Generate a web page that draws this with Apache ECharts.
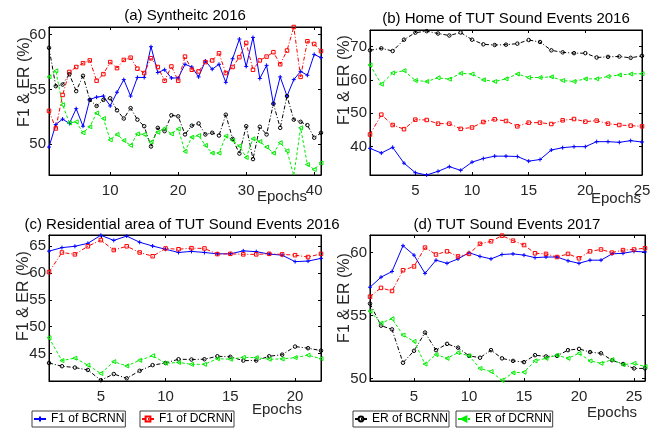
<!DOCTYPE html>
<html>
<head>
<meta charset="utf-8">
<script src="https://cdn.jsdelivr.net/npm/echarts@6/dist/echarts.min.js"></script>
<style>
  html, body { margin: 0; padding: 0; background: #fff; }
  #chart { width: 671px; height: 428px; }
</style>
</head>
<body>
<div id="chart"></div>
<script>
// ---- data ----
const seriesNames = ['F1 of BCRNN', 'F1 of DCRNN', 'ER of BCRNN', 'ER of DCRNN'];
const panelTitles = ['(a) Syntheitc 2016', '(b) Home of TUT Sound Events 2016',
  '(c) Residential area of TUT Sound Events 2016', '(d) TUT Sound Events 2017'];

// (a) Synthetic 2016, epochs 1..41
const aF1B = [49.75, 51.8, 52.3, 51.9, 53.25, 51.65, 54.1, 54.3, 54.4, 53.5, 54.75, 55.9, 54.4, 56.1, 56.1, 58.9, 56.55, 56.8, 56.05, 56.05, 57.3, 57.05, 56.15, 57.6, 56.85, 57.3, 55.65, 57.8, 59.6, 57.1, 59.75, 56.0, 57.2, 53.7, 56.15, 54.4, 55.9, 56.65, 56.3, 58.2, 57.9];
const aF1D = [53.05, 51.45, 54.5, 56.6, 57.05, 57.4, 57.65, 55.8, 56.4, 57.5, 56.95, 57.7, 57.9, 56.9, 56.5, 57.85, 57.05, 55.8, 57.1, 55.8, 58.0, 56.8, 56.65, 57.5, 57.65, 58.3, 56.5, 57.05, 57.95, 59.25, 56.8, 57.65, 58.0, 58.4, 57.3, 58.55, 60.7, 56.15, 59.4, 59.15, 58.5];
const aERB = [58.8, 55.3, 55.45, 56.4, 54.85, 56.25, 54.05, 53.5, 54.05, 54.2, 53.1, 52.35, 53.3, 52.25, 51.65, 49.8, 51.5, 51.2, 52.65, 52.55, 50.9, 51.7, 51.9, 50.9, 51.05, 50.8, 52.7, 50.5, 49.15, 51.65, 48.65, 51.6, 50.9, 53.7, 51.5, 54.4, 52.25, 52.05, 51.75, 50.6, 51.05];
const aERD = [56.15, 56.7, 53.6, 51.95, 52.05, 51.05, 51.6, 52.85, 52.35, 50.4, 50.9, 50.35, 49.9, 50.95, 50.9, 50.2, 51.1, 51.45, 50.95, 51.4, 49.35, 50.65, 50.8, 49.9, 49.2, 49.2, 50.75, 50.35, 49.85, 48.8, 50.5, 50.25, 49.75, 49.2, 50.15, 49.4, 47.15, 51.5, 48.15, 47.7, 48.3];

// (b) Home, epochs 1..25
const bF1B = [39.5, 38.1, 39.8, 35.05, 32.2, 31.5, 32.6, 34.0, 32.9, 35.35, 36.45, 37.15, 37.15, 37.05, 35.65, 36.15, 39.0, 39.7, 40.0, 40.0, 41.5, 41.5, 41.3, 41.8, 41.4];
const bF1D = [43.65, 49.6, 46.5, 45.25, 48.1, 48.0, 46.9, 46.9, 45.35, 45.75, 47.4, 48.2, 47.7, 46.1, 47.2, 47.2, 46.8, 47.9, 48.3, 47.5, 47.8, 46.9, 46.5, 46.3, 46.1];
const bERB = [68.9, 69.5, 68.7, 72.1, 74.2, 74.65, 73.95, 73.35, 74.25, 72.1, 70.7, 70.5, 70.6, 70.9, 72.0, 71.4, 68.9, 68.3, 68.05, 68.05, 66.75, 66.95, 67.05, 66.65, 67.25];
const bERD = [64.5, 58.75, 62.1, 62.8, 59.85, 59.55, 60.65, 60.25, 62.0, 61.8, 60.05, 59.55, 60.35, 61.8, 60.75, 60.75, 60.95, 59.85, 59.55, 60.35, 60.35, 61.05, 61.5, 61.8, 61.9];

// (c) Residential area, epochs 1..22
const cF1B = [64.05, 64.7, 64.95, 65.5, 67.0, 66.05, 66.85, 65.7, 65.0, 64.4, 63.8, 64.0, 63.8, 63.55, 63.55, 64.1, 63.95, 63.5, 63.3, 62.1, 62.2, 62.7];
const cF1D = [60.15, 63.8, 63.45, 64.95, 66.1, 64.25, 64.95, 63.8, 63.1, 64.55, 64.4, 64.6, 64.55, 63.5, 63.55, 63.45, 63.45, 63.55, 63.45, 63.3, 62.95, 63.55];
const cERB = [43.25, 42.65, 42.4, 41.95, 40.05, 41.2, 40.4, 41.8, 42.85, 43.25, 43.95, 43.9, 43.95, 44.5, 44.4, 43.7, 43.7, 44.5, 44.8, 46.3, 46.0, 45.55];
const cERD = [47.95, 43.7, 44.15, 42.85, 41.3, 43.5, 42.7, 43.75, 44.6, 43.2, 43.35, 43.0, 43.0, 44.05, 43.95, 44.3, 44.25, 43.95, 44.0, 44.25, 44.7, 44.05];

// (d) TUT 2017, epochs 1..26
const dF1B = [57.25, 58.05, 58.5, 60.55, 59.8, 58.35, 59.4, 59.15, 59.5, 60.0, 59.7, 59.5, 59.85, 59.9, 59.8, 59.6, 59.65, 59.65, 59.35, 59.15, 59.4, 59.4, 59.9, 59.95, 60.1, 60.05];
const dF1D = [56.5, 57.2, 56.95, 58.6, 58.9, 60.4, 59.85, 60.1, 59.7, 59.9, 60.7, 60.9, 61.35, 60.95, 60.6, 59.95, 59.9, 59.65, 59.9, 59.55, 60.1, 60.25, 60.0, 60.2, 60.25, 60.35];
const dERB = [55.95, 54.2, 53.9, 51.25, 52.2, 53.65, 52.25, 52.75, 52.45, 51.8, 51.65, 52.25, 51.6, 51.4, 51.3, 51.85, 51.75, 51.8, 52.25, 52.35, 52.1, 52.0, 51.45, 51.15, 50.8, 50.8];
const dERD = [55.35, 54.4, 54.75, 53.45, 52.95, 51.15, 51.9, 51.6, 52.05, 51.8, 50.8, 50.55, 49.85, 50.45, 50.5, 51.4, 51.6, 51.85, 51.6, 52.0, 51.4, 51.2, 51.5, 51.1, 51.2, 50.95];

// axis tick values
const aXTicks = [10, 20, 30, 40], aYTicks = [50, 55, 60];
const bXTicks = [5, 10, 15, 20, 25], bYTicks = [40, 50, 60, 70];
const cXTicks = [5, 10, 15, 20], cYTicks = [45, 50, 55, 60, 65];
const dXTicks = [5, 10, 15, 20, 25], dYTicks = [50, 55, 60];

// ---- layout ----
const FONT = 'Liberation Sans, Arial, sans-serif';
const panels = [
  { grid: { left: 49, top: 27, width: 272, height: 148 }, x: [1, 41], y: [47.2, 60.7], xt: aXTicks, yt: aYTicks,
    data: [aF1B, aF1D, aERB, aERD], title: [185, 8], ylab: [25, 82], epochs: [282, 197] },
  { grid: { left: 370, top: 30, width: 272, height: 145 }, x: [1, 25], y: [31.5, 75], xt: bXTicks, yt: bYTicks,
    data: [bF1B, bF1D, bERB, bERD], title: [506, 11], ylab: [345, 80], epochs: [616, 199] },
  { grid: { left: 49, top: 235, width: 272, height: 146 }, x: [1, 22], y: [39.9, 67.05], xt: cXTicks, yt: cYTicks,
    data: [cF1B, cF1D, cERB, cERD], title: [182, 217], ylab: [24, 296], epochs: [277, 410] },
  { grid: { left: 370, top: 235, width: 275, height: 146 }, x: [1, 26], y: [49.8, 61.4], xt: dXTicks, yt: dYTicks,
    data: [dF1B, dF1D, dERB, dERD], title: [507, 217], ylab: [345, 298], epochs: [612, 413] }
];

const seriesStyles = [
  { color: '#0000ff', symbol: 'path://M5,0L5,10M0,5L10,5', size: 4, rotate: 0, line: 'solid' },
  { color: '#ff0000', symbol: 'rect', size: 3.5, rotate: 0, line: [4, 2, 1, 2] },
  { color: '#000000', symbol: 'circle', size: 3.5, rotate: 0, line: [4, 2, 1, 2] },
  { color: '#00ee00', symbol: 'triangle', size: 4, rotate: 90, line: [3, 2] }
];

const grids = [], xAxes = [], yAxes = [], series = [], titles = [], graphics = [];
const axisColor = '#000';
const labelColor = '#262626';

panels.forEach((p, i) => {
  grids.push(Object.assign({ show: true, borderColor: axisColor, borderWidth: 1, backgroundColor: '#fff' }, p.grid));
  ['bottom', 'top'].forEach((pos, k) => {
    xAxes.push({
      type: 'value', gridIndex: i, position: pos, min: p.x[0], max: p.x[1],
      axisLine: { show: true, onZero: false, lineStyle: { color: axisColor } },
      axisTick: { show: true, inside: true, length: 3, customValues: p.xt, lineStyle: { color: axisColor } },
      axisLabel: { show: k === 0, customValues: p.xt, margin: 8, color: labelColor, fontSize: 15, fontFamily: FONT },
      splitLine: { show: false }
    });
  });
  ['left', 'right'].forEach((pos, k) => {
    yAxes.push({
      type: 'value', gridIndex: i, position: pos, min: p.y[0], max: p.y[1],
      axisLine: { show: true, onZero: false, lineStyle: { color: axisColor } },
      axisTick: { show: true, inside: true, length: 3, customValues: p.yt, lineStyle: { color: axisColor } },
      axisLabel: { show: k === 0, customValues: p.yt, margin: 3, color: labelColor, fontSize: 15, fontFamily: FONT },
      splitLine: { show: false }
    });
  });
  p.data.forEach((vals, s) => {
    const st = seriesStyles[s];
    series.push({
      name: seriesNames[s], type: 'line', xAxisIndex: i * 2, yAxisIndex: i * 2,
      data: vals.map((v, j) => [j + 1, v]),
      symbol: st.symbol, symbolSize: st.size, symbolRotate: st.rotate, showAllSymbol: true,
      lineStyle: { color: st.color, width: 1, type: st.line },
      itemStyle: { color: 'rgba(255,255,255,0)', borderColor: st.color, borderWidth: 1 },
      emphasis: { disabled: true }
    });
  });
  titles.push({
    text: panelTitles[i], left: p.title[0], top: p.title[1], textAlign: 'center', padding: 0,
    textStyle: { fontFamily: FONT, fontSize: 15, fontWeight: 'normal', color: '#000' }
  });
  graphics.push({
    type: 'text', x: p.ylab[0], y: p.ylab[1], rotation: Math.PI / 2,
    style: { text: 'F1 & ER (%)', font: '16px ' + FONT, fill: labelColor, textAlign: 'center', textVerticalAlign: 'middle' }
  });
  graphics.push({
    type: 'text', x: p.epochs[0], y: p.epochs[1],
    style: { text: 'Epochs', font: '15px ' + FONT, fill: labelColor, textAlign: 'center', textVerticalAlign: 'middle' }
  });
});

// legend boxes under panels (c) and (d)
const legendPos = [[32, 411], [140, 411], [353, 411], [456, 411]];
const legends = seriesNames.map((name, k) => ({
  data: [name], left: legendPos[k][0], top: legendPos[k][1], orient: 'horizontal',
  backgroundColor: '#fff', borderColor: '#404040', borderWidth: 1, padding: [2, 1, 2, 1],
  itemWidth: 12, itemHeight: 6, selectedMode: false,
  textStyle: { fontFamily: FONT, fontSize: 12, color: '#000' }
}));

const chart = echarts.init(document.getElementById('chart'), null, { renderer: 'canvas' });
chart.setOption({
  backgroundColor: '#fff',
  animation: false,
  title: titles,
  legend: legends,
  grid: grids,
  xAxis: xAxes,
  yAxis: yAxes,
  series: series,
  graphic: graphics
});
</script>
</body>
</html>
